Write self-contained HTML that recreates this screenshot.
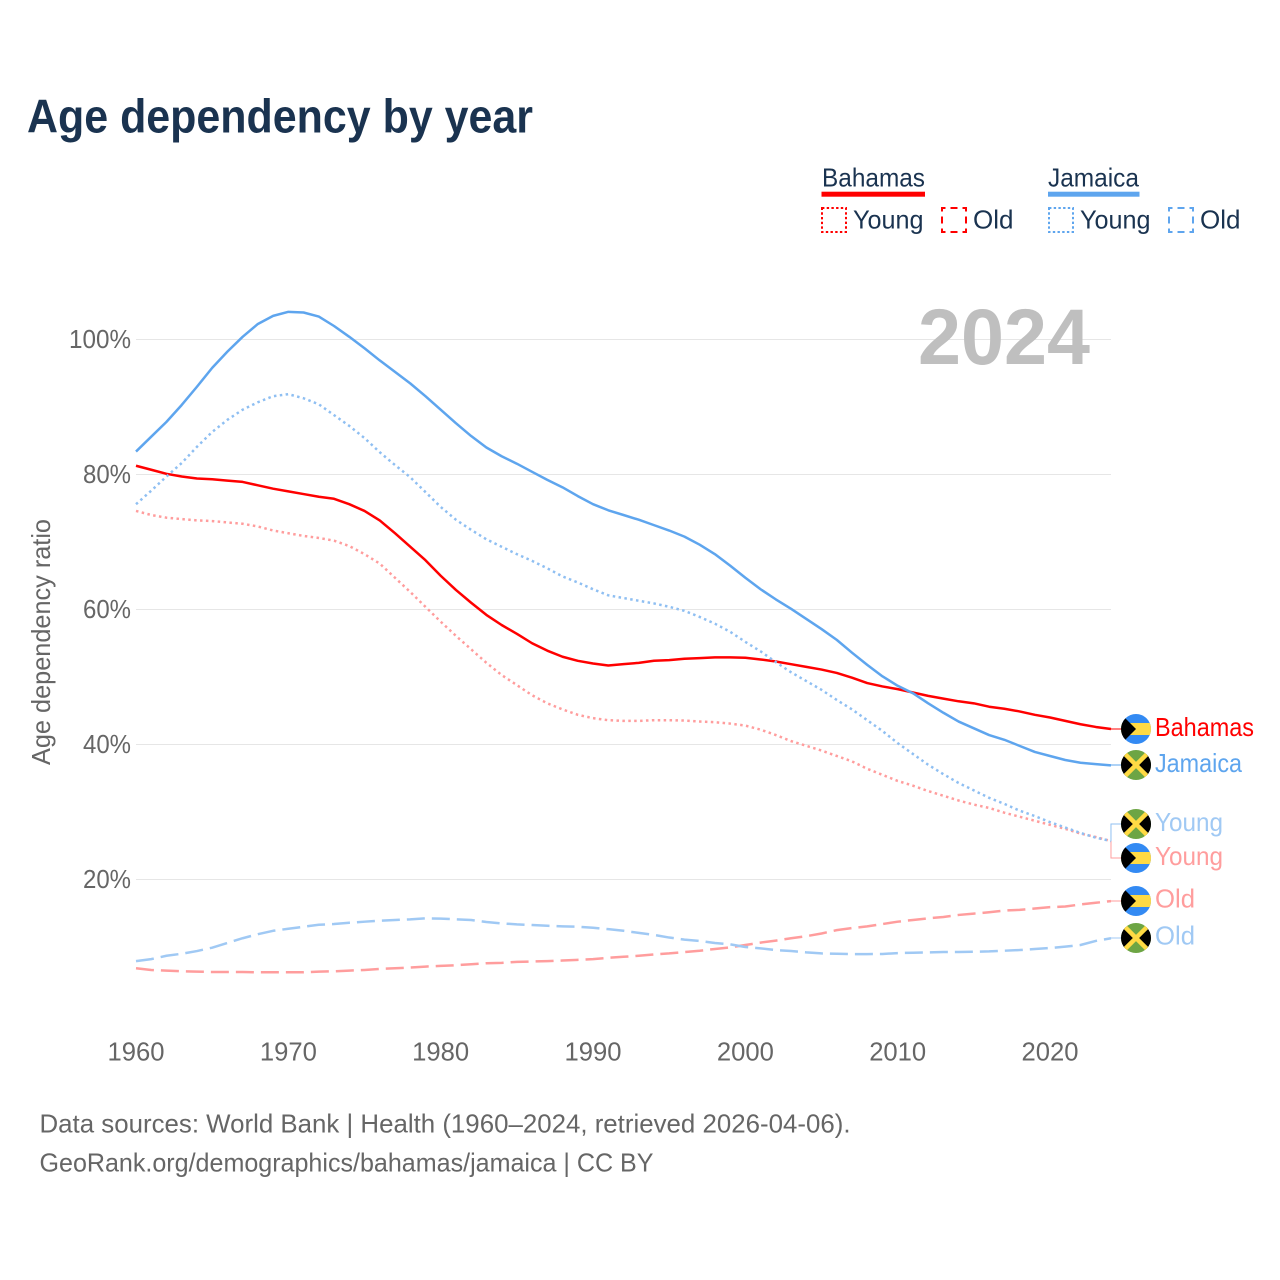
<!DOCTYPE html>
<html lang="en">
<head>
<meta charset="utf-8">
<title>Age dependency by year</title>
<style>
html,body{margin:0;padding:0;background:#fff;}
svg{display:block;}
text{font-family:"Liberation Sans",sans-serif;}
</style>
</head>
<body>
<svg id="chart" width="1280" height="1280" viewBox="0 0 1280 1280" xmlns="http://www.w3.org/2000/svg">
<defs>
  <clipPath id="flag-clip"><circle cx="0" cy="0" r="15"/></clipPath>
  <g id="flag-bs" clip-path="url(#flag-clip)">
    <rect x="-15" y="-15" width="30" height="30" fill="#338af3"/>
    <rect x="-15" y="-6" width="30" height="12" fill="#ffda44"/>
    <path d="M-15,-15 L-13,-13 L0,0 L-13,13 L-15,15 Z" fill="#000"/>
  </g>
  <g id="flag-jm" clip-path="url(#flag-clip)">
    <rect x="-15" y="-15" width="30" height="30" fill="#6da544"/>
    <path d="M-15,-15 L0,0 L-15,15 Z" fill="#000"/>
    <path d="M15,-15 L0,0 L15,15 Z" fill="#000"/>
    <path d="M-13,-13 L13,13 M13,-13 L-13,13" stroke="#ffda44" stroke-width="4.5"/>
  </g>
</defs>
<rect width="1280" height="1280" fill="#fff"/>

<text x="27" y="132.5" font-size="47.5" font-weight="700" fill="#1a3350" textLength="506" lengthAdjust="spacingAndGlyphs">Age dependency by year</text>

<g font-size="26" fill="#1a3350">
  <text x="822" y="186.5" textLength="103" lengthAdjust="spacingAndGlyphs">Bahamas</text>
  <rect x="821.5" y="191.7" width="103.5" height="5" fill="#ff0000"/>
  <rect x="822" y="208" width="24" height="24" fill="none" stroke="#ff0000" stroke-width="2" stroke-dasharray="2.4 2.3"/>
  <text x="853" y="228.5" textLength="70.5" lengthAdjust="spacingAndGlyphs">Young</text>
  <rect x="942" y="208" width="24" height="24" fill="none" stroke="#ff0000" stroke-width="2" stroke-dasharray="7 5" stroke-dashoffset="3.5"/>
  <text x="973" y="228.5" textLength="40.5" lengthAdjust="spacingAndGlyphs">Old</text>
  <text x="1048" y="186.5" textLength="91" lengthAdjust="spacingAndGlyphs">Jamaica</text>
  <rect x="1048" y="191.7" width="91.5" height="5" fill="#5ea5ee"/>
  <rect x="1049" y="208" width="24" height="24" fill="none" stroke="#5ea5ee" stroke-width="2" stroke-dasharray="2.4 2.3"/>
  <text x="1080" y="228.5" textLength="70.5" lengthAdjust="spacingAndGlyphs">Young</text>
  <rect x="1169" y="208" width="24" height="24" fill="none" stroke="#5ea5ee" stroke-width="2" stroke-dasharray="7 5" stroke-dashoffset="3.5"/>
  <text x="1200" y="228.5" textLength="40.5" lengthAdjust="spacingAndGlyphs">Old</text>
</g>

<g id="grid"></g>
<g id="yticks"></g>
<g id="xticks"></g>

<text transform="translate(50,642) rotate(-90)" text-anchor="middle" font-size="26" fill="#666" textLength="246" lengthAdjust="spacingAndGlyphs">Age dependency ratio</text>

<text x="918" y="364" font-size="79" font-weight="700" fill="#bfbfbf" textLength="172" lengthAdjust="spacingAndGlyphs">2024</text>

<g id="series"></g>

<g id="end-labels" font-size="26">
  <use href="#flag-bs" x="1136" y="729"/>
  <text x="1155" y="736" fill="#ff0000" textLength="99" lengthAdjust="spacingAndGlyphs">Bahamas</text>
  <use href="#flag-jm" x="1136" y="765"/>
  <text x="1155" y="772" fill="#5ea5ee" textLength="87" lengthAdjust="spacingAndGlyphs">Jamaica</text>
  <use href="#flag-jm" x="1136" y="824"/>
  <text x="1155" y="831" fill="#a0c9f4" textLength="68" lengthAdjust="spacingAndGlyphs">Young</text>
  <use href="#flag-bs" x="1136" y="858"/>
  <text x="1155" y="865" fill="#ff9d9d" textLength="68" lengthAdjust="spacingAndGlyphs">Young</text>
  <use href="#flag-bs" x="1136" y="901"/>
  <text x="1155" y="907.5" fill="#ff9d9d" textLength="40" lengthAdjust="spacingAndGlyphs">Old</text>
  <use href="#flag-jm" x="1136" y="938"/>
  <text x="1155" y="944.5" fill="#a0c9f4" textLength="40" lengthAdjust="spacingAndGlyphs">Old</text>
</g>

<g font-size="26" fill="#666">
  <text x="39.5" y="1132.5" textLength="811" lengthAdjust="spacingAndGlyphs">Data sources: World Bank | Health (1960–2024, retrieved 2026-04-06).</text>
  <text x="39.5" y="1171.5" textLength="614" lengthAdjust="spacingAndGlyphs">GeoRank.org/demographics/bahamas/jamaica | CC BY</text>
</g>
</svg>

<script>
var startYear = 1960;
var yTickValues = [20, 40, 60, 80, 100];
var xTickValues = [1960, 1970, 1980, 1990, 2000, 2010, 2020];

var bahamasTotal = [
  81.3,80.7,80.1,79.7,79.4,79.3,79.1,78.9,78.4,77.9,
  77.5,77.1,76.7,76.4,75.6,74.6,73.2,71.3,69.3,67.3,
  65.0,62.9,61.0,59.2,57.7,56.4,55.0,53.9,53.0,52.4,
  52.0,51.7,51.9,52.1,52.4,52.5,52.7,52.8,52.9,52.9,
  52.85,52.6,52.3,51.9,51.5,51.1,50.6,49.9,49.1,48.6,
  48.2,47.7,47.2,46.8,46.4,46.1,45.6,45.3,44.9,44.4,
  44.0,43.5,43.0,42.6,42.3
];
var jamaicaTotal = [
  83.4,85.6,87.8,90.3,93.0,95.8,98.2,100.4,102.3,103.5,
  104.1,104.0,103.4,102.0,100.4,98.7,96.9,95.2,93.5,91.6,
  89.6,87.6,85.7,84.0,82.7,81.6,80.4,79.2,78.1,76.8,
  75.6,74.7,74.0,73.3,72.5,71.7,70.8,69.6,68.2,66.5,
  64.7,63.0,61.5,60.1,58.6,57.1,55.5,53.6,51.8,50.1,
  48.7,47.6,46.1,44.7,43.4,42.4,41.4,40.7,39.8,38.9,
  38.3,37.7,37.3,37.1,36.9
];
var bahamasYoung = [
  74.6,74.0,73.6,73.4,73.2,73.1,72.9,72.7,72.3,71.7,
  71.3,70.9,70.6,70.2,69.4,68.2,66.8,64.7,62.6,60.4,
  58.2,56.1,54.1,52.1,50.3,48.8,47.3,46.1,45.2,44.4,
  43.9,43.6,43.5,43.5,43.6,43.6,43.55,43.4,43.3,43.1,
  42.8,42.2,41.4,40.5,39.8,39.1,38.3,37.5,36.4,35.5,
  34.6,33.9,33.1,32.4,31.7,31.1,30.6,29.9,29.3,28.7,
  28.1,27.5,26.8,26.3,25.7
];
var jamaicaYoung = [
  75.6,77.6,79.7,81.7,84.1,86.3,88.1,89.6,90.7,91.6,
  91.9,91.3,90.4,88.8,87.2,85.4,83.3,81.4,79.6,77.4,
  75.2,73.3,71.8,70.4,69.3,68.2,67.2,66.1,64.9,64.0,
  63.0,62.1,61.7,61.3,60.9,60.4,59.8,58.9,57.9,56.7,
  55.2,53.8,52.2,50.7,49.4,48.1,46.6,45.2,43.6,42.0,
  40.2,38.6,37.0,35.6,34.3,33.2,32.1,31.2,30.2,29.4,
  28.5,27.7,26.9,26.2,25.7
];
var bahamasOld = [
  6.85,6.6,6.5,6.4,6.35,6.3,6.3,6.3,6.25,6.25,
  6.25,6.25,6.35,6.4,6.5,6.6,6.75,6.85,6.95,7.1,
  7.2,7.3,7.45,7.6,7.65,7.8,7.85,7.9,8.0,8.1,
  8.2,8.4,8.55,8.7,8.9,9.05,9.25,9.45,9.7,9.95,
  10.3,10.65,10.95,11.3,11.6,12.0,12.5,12.8,13.05,13.4,
  13.75,14.0,14.25,14.45,14.75,14.95,15.15,15.4,15.5,15.7,
  15.9,16.0,16.3,16.55,16.8
];
var jamaicaOld = [
  7.9,8.2,8.7,9.0,9.4,9.9,10.6,11.3,11.9,12.4,
  12.7,13.0,13.3,13.4,13.6,13.75,13.9,14.0,14.1,14.25,
  14.2,14.1,14.0,13.7,13.5,13.35,13.25,13.15,13.05,13.0,
  12.85,12.65,12.4,12.1,11.8,11.4,11.1,10.9,10.6,10.4,
  10.0,9.8,9.55,9.4,9.2,9.05,9.0,8.95,8.95,8.97,
  9.1,9.15,9.2,9.25,9.25,9.3,9.35,9.45,9.55,9.7,
  9.85,10.05,10.3,10.9,11.3
];

var SVG_NS = 'http://www.w3.org/2000/svg';

function xScale(year) {
  return 136 + (year - 1960) * 15.234;
}
function yScale(value) {
  return 1014.5 - value * 6.75;
}
function linePath(values) {
  var d = '';
  for (var i = 0; i < values.length; i++) {
    d += (i ? 'L' : 'M') + xScale(startYear + i).toFixed(2) + ',' + yScale(values[i]).toFixed(2);
  }
  return d;
}
function setAll(el, attrs) {
  for (var k in attrs) { el.setAttribute(k, attrs[k]); }
}

var gridGroup = document.getElementById('grid');
var yTickGroup = document.getElementById('yticks');
var xTickGroup = document.getElementById('xticks');
var seriesGroup = document.getElementById('series');

yTickValues.forEach(function (v) {
  var line = document.createElementNS(SVG_NS, 'line');
  setAll(line, { x1: 136, x2: 1111, y1: yScale(v), y2: yScale(v), stroke: '#e6e6e6', 'stroke-width': 1 });
  
  
  gridGroup.appendChild(line);

  var label = document.createElementNS(SVG_NS, 'text');
  setAll(label, { x: 131, y: yScale(v) + 8.5, 'text-anchor': 'end', 'font-size': 26, fill: '#666', textLength: v === 100 ? 62 : 48, lengthAdjust: 'spacingAndGlyphs' });
  label.textContent = v + '%';
  
  
  yTickGroup.appendChild(label);
});

xTickValues.forEach(function (year) {
  var label = document.createElementNS(SVG_NS, 'text');
  setAll(label, { x: xScale(year), y: 1060.5, 'text-anchor': 'middle', 'font-size': 26, fill: '#666', textLength: 57, lengthAdjust: 'spacingAndGlyphs' });
  label.textContent = year;
  
  
  xTickGroup.appendChild(label);
});

function drawSeries(name, values, color, dash, flagY) {
  var path = document.createElementNS(SVG_NS, 'path');
  setAll(path, { d: linePath(values), fill: 'none', stroke: color, 'stroke-width': 2.5, 'stroke-linejoin': 'round' });
  if (dash) { path.setAttribute('stroke-dasharray', dash); }
  
  
  seriesGroup.appendChild(path);

  var endX = xScale(startYear + values.length - 1);
  var endY = yScale(values[values.length - 1]);
  var leader = document.createElementNS(SVG_NS, 'path');
  var leaderD = 'M' + endX + ',' + endY + 'V' + flagY + 'H1124';
  setAll(leader, { d: leaderD, fill: 'none', stroke: color, 'stroke-width': 1 });
  
  
  seriesGroup.appendChild(leader);
}

drawSeries('bahamas-total', bahamasTotal, '#ff0000', null, 729);
drawSeries('jamaica-total', jamaicaTotal, '#5ea5ee', null, 765);
drawSeries('bahamas-old', bahamasOld, '#ff9d9d', '18 7', 901);
drawSeries('jamaica-old', jamaicaOld, '#a0c9f4', '18 7', 938);
drawSeries('bahamas-young', bahamasYoung, '#ff9d9d', '2.5 3.4', 858);
drawSeries('jamaica-young', jamaicaYoung, '#8fbff2', '2.5 3.4', 824);
</script>
</body>
</html>
